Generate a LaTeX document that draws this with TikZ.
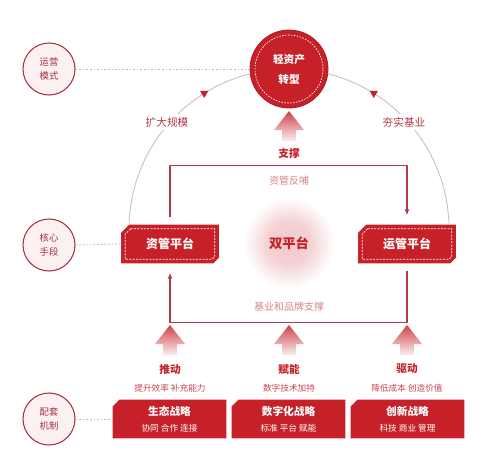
\documentclass[tikz,border=0pt]{standalone}
\usepackage{fontspec}
\setmainfont{Noto Sans CJK SC}
\usetikzlibrary{arrows.meta,shapes.geometric,backgrounds}

\definecolor{zhuhong}{HTML}{C62128}
\definecolor{zhehong}{HTML}{A8323F}
\definecolor{qianfen}{HTML}{FCF1F2}
\definecolor{xianhong}{HTML}{B23A44}
\definecolor{huxian}{HTML}{D8BCBE}
\definecolor{fenzi}{HTML}{D98489}
\definecolor{zihong}{HTML}{C8474E}
\definecolor{xuxian}{HTML}{D6AEB2}

\newcommand\zihao[2]{\fontsize{#1pt}{#2pt}\selectfont}
\pgfdeclareradialshading{guangyun}{\pgfpoint{0bp}{0bp}}{%
  color(0bp)=(zhuhong!25); color(12bp)=(zhuhong!20); color(25bp)=(white); color(50bp)=(white)}

\begin{document}
\begin{tikzpicture}[x=0.75pt, y=-0.75pt, line join=round,
  quan/.style={circle, draw=zhehong, line width=0.8pt, fill=qianfen, minimum size=39pt,
    inner sep=0pt, align=center, text=zhehong, font=\zihao{7}{10.5}},
  pingtai/.style={rectangle, minimum width=72.75pt, minimum height=28.5pt,
    inner sep=0pt, text=white, font=\zihao{9}{11}\bfseries},
  neikuang/.style={white, dash pattern=on 1.5pt off 1pt, line width=0.5pt},
  zhanlve/.style={rectangle, minimum width=84.75pt, minimum height=28.5pt,
    inner sep=0pt, text=white, align=center},
  xu/.style={xuxian, line width=0.6pt, dash pattern=on 1.2pt off 1.5pt},
  hu/.style={huxian, line width=0.7pt},
  link/.style={xianhong, line width=0.9pt},
  hubiao/.style={fill=white, inner sep=2pt, text=xianhong, font=\zihao{8}{10}},
  sanjiao/.style={regular polygon, regular polygon sides=3, shape border rotate=180,
    fill=zhuhong, minimum size=7pt, inner sep=0pt},
  jiantou/.style={top color=zhuhong!85, bottom color=zhuhong!8, draw=none},
]
  \useasboundingbox (0,0) rectangle (499,454);

  % 中心光晕
  \shade[shading=guangyun] (289,243) circle[radius=34pt];
  \node[text=zhuhong, font=\zihao{10}{12}\bfseries] (spt) at (289,243) {双平台};

  % 左侧说明圆
  \node[quan] (ms) at (49,69) {运营\\模式};
  \node[quan] (sd) at (49,245) {核心\\手段};
  \node[quan] (jz) at (49,419) {配套\\机制};

  % 顶部目标
  \node[circle, fill=zhuhong, draw=zhuhong!85!black, line width=0.6pt, minimum size=58.5pt,
    inner sep=0pt, align=center, text=white, font=\zihao{8}{15}\bfseries] (zx) at (289,69) {轻资产\\转型};
  \node[circle, draw=white, dash pattern=on 1.2pt off 1pt, line width=0.5pt, minimum size=51pt,
    inner sep=0pt] (zx-k) at (zx.center) {};

  % 双平台
  \node[pingtai] (zg) at (170,244) {资管平台};
  \node[pingtai] (yg) at (407,244) {运管平台};

  % 配套战略
  \node[zhanlve] (st) at (169.5,419) {{\zihao{8}{11}\bfseries 生态战略}\\{\zihao{6.5}{8}协同 合作 连接}};
  \node[zhanlve] (sz) at (288.5,419) {{\zihao{8}{11}\bfseries 数字化战略}\\{\zihao{6.5}{8}标准 平台 赋能}};
  \node[zhanlve] (cx) at (407.5,419) {{\zihao{8}{11}\bfseries 创新战略}\\{\zihao{6.5}{8}科技 商业 管理}};

  % 切角底色
  \begin{scope}[on background layer]
    \foreach \n in {zg,yg}
      \fill[zhuhong] ([xshift=6pt]\n.north west) -- (\n.north east) -- ([yshift=4pt]\n.south east)
        -- ([xshift=-4pt]\n.south east) -- (\n.south west) -- ([yshift=-6pt]\n.north west) -- cycle;
    \foreach \n in {st,sz,cx}
      \fill[zhuhong] ([xshift=5pt]\n.north west) -- (\n.north east) -- (\n.south east)
        -- (\n.south west) -- ([yshift=-5pt]\n.north west) -- cycle;
  \end{scope}
  \foreach \n in {zg,yg}
    \draw[neikuang] ([shift={(7pt,-3pt)}]\n.north west) -- ([shift={(-3pt,-3pt)}]\n.north east)
      -- ([shift={(-3pt,5pt)}]\n.south east) -- ([shift={(-5pt,3pt)}]\n.south east)
      -- ([shift={(3pt,3pt)}]\n.south west) -- ([shift={(3pt,-7pt)}]\n.north west) -- cycle;

  % 大圆弧
  \coordinate (huan) at (289,229);
  \draw[hu] (huan) ++(104:120pt) arc[start angle=104, end angle=178, radius=120pt];
  \draw[hu] (huan) ++(76:120pt) arc[start angle=76, end angle=2, radius=120pt];
  \node[sanjiao] (sj1) at ([shift={(122:120pt)}]huan) {};
  \node[sanjiao] (sj2) at ([shift={(58:120pt)}]huan) {};
  \node[hubiao] (kd) at (167,122) {扩大规模};
  \node[hubiao] (hs) at (404,122) {夯实基业};

  % 虚线
  \draw[xu] (ms.east) -- (zx.west);
  \draw[xu] (sd.east) -- (zg.west);
  \draw[xu] (jz.east) -- (st.west);

  % 支撑
  \shade[jiantou] (289,111) -- (304,130) -- (296,130) -- (296,141) -- (282,141) -- (282,130) -- (274,130) -- cycle;
  \node[text=zhuhong, font=\zihao{8}{10}\bfseries] (zc) at (289,153) {支撑};

  % 平台之间的连线
  \draw[link, shorten <=6pt, shorten >=7pt, -{Latex[length=4.5pt,width=3.5pt]}]
    (zg.north) -- ++(0,-59) -| (yg.north);
  \node[text=fenzi, font=\zihao{7.5}{9}] (fb) at (289,181) {资管反哺};
  \draw[link, shorten <=6pt, shorten >=7pt, -{Latex[length=4.5pt,width=3.5pt]}]
    (yg.south) -- ++(0,59) -| (zg.south);
  \node[text=fenzi, font=\zihao{7.5}{9}] (jy) at (289,307) {基业和品牌支撑};

  % 三个推力
  \foreach \x/\t/\s in {170/推动/提升效率 补充能力, 289/赋能/数字技术加持, 407/驱动/降低成本 创造价值} {
    \shade[jiantou] (\x,325) -- (\x+15,344) -- (\x+7,344) -- (\x+7,355) -- (\x-7,355) -- (\x-7,344) -- (\x-15,344) -- cycle;
    \node[text=zhuhong, font=\zihao{8}{10}\bfseries] (t\x) at (\x,369) {\t};
    \node[text=zihong, font=\zihao{6.5}{8}] (s\x) at (\x,388) {\s};
  }
\end{tikzpicture}
\end{document}
